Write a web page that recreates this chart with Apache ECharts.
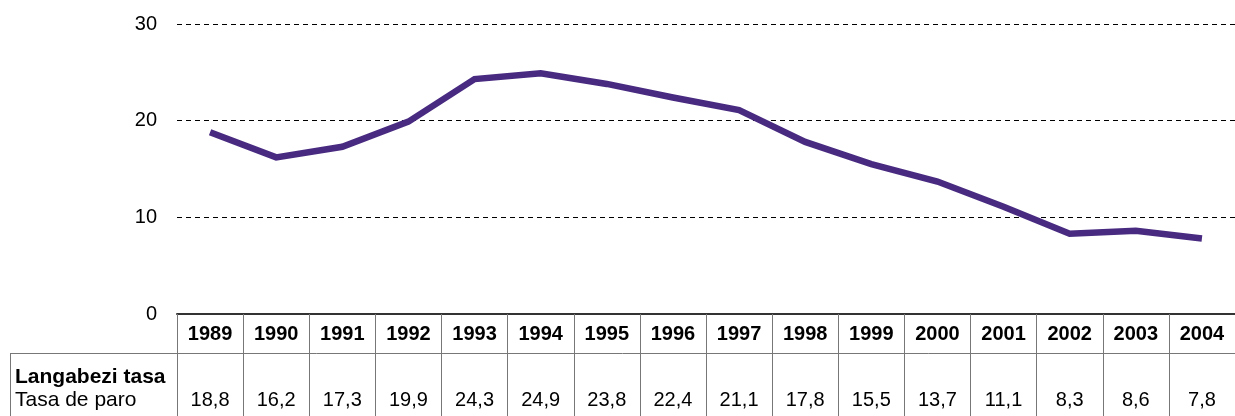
<!DOCTYPE html>
<html>
<head>
<meta charset="utf-8">
<script src="https://cdn.jsdelivr.net/npm/echarts@6/dist/echarts.min.js"></script>
<style>
html,body{margin:0;padding:0;background:#fff;}
#c{width:1235px;height:416px;}
</style>
</head>
<body>
<div id="c"></div>
<script>
const years = ['1989','1990','1991','1992','1993','1994','1995','1996','1997','1998','1999','2000','2001','2002','2003','2004'];
const rates = [18.8,16.2,17.3,19.9,24.3,24.9,23.8,22.4,21.1,17.8,15.5,13.7,11.1,8.3,8.6,7.8];
const yTicks = [0,10,20,30];
const rowLabelEu = 'Langabezi tasa';
const rowLabelEs = 'Tasa de paro';

const FONT = '"Liberation Sans", Arial, sans-serif';
const fmt = v => v.toFixed(1).replace('.', ',');

const chart = echarts.init(document.getElementById('c'), null, {renderer:'canvas'});
chart.setOption({
  animation: false,
  backgroundColor: '#fff',
  grid: {left: 177, top: 24, width: 1066.67, height: 290, containLabel: false},
  xAxis: [
    {
      type: 'category', data: years, position: 'bottom', boundaryGap: true,
      axisLine: {show: true, lineStyle: {color: '#333', width: 2}},
      axisTick: {show: true, interval: 0, length: 102, lineStyle: {color: '#777', width: 1}},
      axisLabel: {interval: 0, margin: 20, fontSize: 20, fontWeight: 'bold', color: '#000', fontFamily: FONT, verticalAlign: 'middle'},
      splitLine: {show: false}
    },
    {
      type: 'category', data: rates.map(fmt), position: 'bottom', offset: 86, boundaryGap: true,
      axisLine: {show: false}, axisTick: {show: false},
      axisLabel: {interval: 0, margin: 0, fontSize: 20, color: '#000', fontFamily: FONT, verticalAlign: 'middle'},
      splitLine: {show: false}
    }
  ],
  yAxis: {
    type: 'value', min: yTicks[0], max: yTicks[yTicks.length-1], interval: 10,
    axisLine: {show: false}, axisTick: {show: false},
    axisLabel: {margin: 20, fontSize: 20, color: '#000', fontFamily: FONT},
    splitLine: {show: true, lineStyle: {color: '#000', width: 1, type: [5, 4]}}
  },
  series: [{
    type: 'line', xAxisIndex: 0, data: rates, symbol: 'none', smooth: false,
    lineStyle: {color: '#482a80', width: 6.5, join: 'miter'}
  }],
  graphic: [
    {type: 'line', shape: {x1: 10, y1: 353.5, x2: 1235, y2: 353.5}, style: {stroke: '#777', lineWidth: 1}},
    {type: 'line', shape: {x1: 10.5, y1: 353, x2: 10.5, y2: 416}, style: {stroke: '#777', lineWidth: 1}},
    {type: 'text', x: 15, y: 377, style: {text: rowLabelEu, font: 'bold 21px ' + FONT, fill: '#000', verticalAlign: 'middle', align: 'left'}},
    {type: 'text', x: 15, y: 400, style: {text: rowLabelEs, font: '21px ' + FONT, fill: '#000', verticalAlign: 'middle', align: 'left'}}
  ]
});
</script>
</body>
</html>
